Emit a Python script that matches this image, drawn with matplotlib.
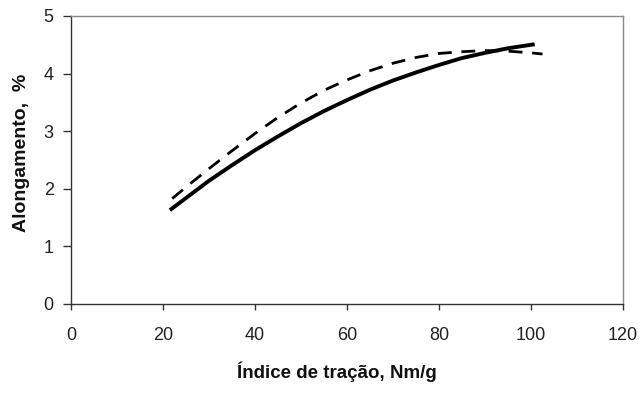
import matplotlib
matplotlib.use("Agg")
import matplotlib.pyplot as plt

# Solid curve
x_solid = [21.5, 25, 30, 35, 40, 45, 50, 55, 60, 65, 70, 75, 80, 85, 90, 95, 100.8]
y_solid = [1.63, 1.84, 2.14, 2.41, 2.67, 2.91, 3.14, 3.35, 3.54, 3.72, 3.88, 4.02, 4.15, 4.27, 4.36, 4.44, 4.51]

# Dashed curve
x_dash = [22, 25, 30, 35, 40, 45, 50, 55, 60, 65, 70, 75, 80, 85, 90, 95, 100, 102.5]
y_dash = [1.83, 2.03, 2.35, 2.66, 2.96, 3.24, 3.49, 3.71, 3.89, 4.05, 4.18, 4.28, 4.35, 4.38, 4.40, 4.39, 4.36, 4.34]

x_ticks = [0, 20, 40, 60, 80, 100, 120]
y_ticks = [0, 1, 2, 3, 4, 5]

plt.rcParams['font.family'] = ['Liberation Sans', 'DejaVu Sans']

fig = plt.figure(figsize=(6.41, 4.12), dpi=100)
ax = fig.add_axes([71/641, 1 - 304/412, (623 - 71)/641, (304 - 16)/412])

ax.plot(x_solid, y_solid, color='black', lw=2.8, solid_capstyle='butt')
ax.plot(x_dash, y_dash, color='black', lw=2.0, linestyle=(0, (5, 3.5)))

ax.set_xlim(0, 120)
ax.set_ylim(0, 5)
ax.set_xticks(x_ticks)
ax.set_yticks(y_ticks)
ax.tick_params(axis='x', direction='out', length=4.5, width=1, pad=12, labelsize=13,
               color='#333333', labelcolor='#222222')
ax.tick_params(axis='y', direction='out', length=5.5, width=1, pad=7, labelsize=13,
               color='#333333', labelcolor='#222222')
for s in ['left', 'bottom']:
    ax.spines[s].set_color('#333333')
    ax.spines[s].set_linewidth(1.0)
for s in ['top', 'right']:
    ax.spines[s].set_color('#888888')
    ax.spines[s].set_linewidth(1.0)

ax.set_xlabel('Índice de tração, Nm/g', fontsize=13.5, fontweight='bold', color='#111111')
ax.set_ylabel('Alongamento,  %', fontsize=14, fontweight='bold', color='#111111')
ax.xaxis.set_label_coords((337 - 71)/552, -(372 - 304)/288)
ax.yaxis.set_label_coords(-(71 - 22)/552, (304 - 153)/288)
ax.xaxis.label.set_va('center')
ax.yaxis.label.set_va('center')

fig.savefig('out.png', dpi=100)
